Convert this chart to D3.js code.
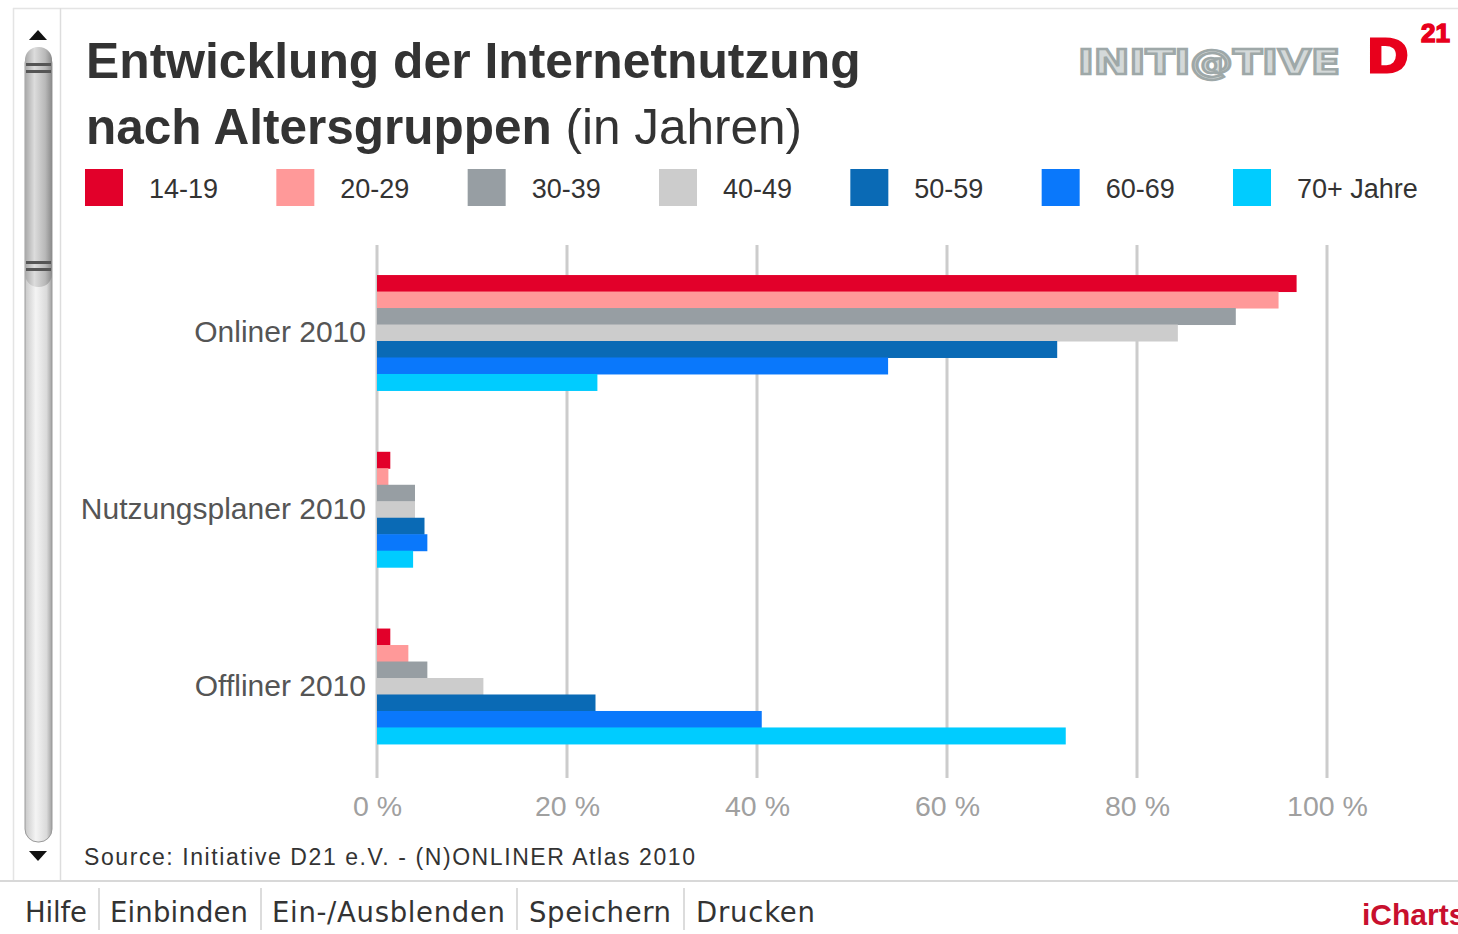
<!DOCTYPE html>
<html><head><meta charset="utf-8">
<script src="https://cdn.jsdelivr.net/npm/d3@7"></script>
<style>html,body{margin:0;padding:0;background:#fff;overflow:hidden}</style>
</head><body>
<svg id="c" width="1458" height="934"></svg>
<script>
const categories = ["Onliner 2010", "Nutzungsplaner 2010", "Offliner 2010"];
const seriesNames = ["14-19", "20-29", "30-39", "40-49", "50-59", "60-69", "70+ Jahre"];
const seriesColors = ["#e2002a", "#ff9999", "#979ea3", "#cccccc", "#0a6ab5", "#0a78fb", "#00ccff"];
const v1419 = [96.8, 1.4, 1.4];
const v2029 = [94.9, 1.2, 3.3];
const v3039 = [90.4, 4.0, 5.3];
const v4049 = [84.3, 4.0, 11.2];
const v5059 = [71.6, 5.0, 23.0];
const v6069 = [53.8, 5.3, 40.5];
const v70 = [23.2, 3.8, 72.5];
const xTicks = [0, 20, 40, 60, 80, 100];
const tickLabels = ["0 %", "20 %", "40 %", "60 %", "80 %", "100 %"];

const series = [v1419, v2029, v3039, v4049, v5059, v6069, v70];
const svg = d3.select("#c");
const FONT = "Liberation Sans, Arial, sans-serif";

// frame
svg.append("line").attr("x1", 60).attr("x2", 1458).attr("y1", 8.5).attr("y2", 8.5).attr("stroke", "#e4e4e4").attr("stroke-width", 1.5);
svg.append("line").attr("x1", 13.5).attr("x2", 13.5).attr("y1", 8).attr("y2", 880).attr("stroke", "#e4e4e4").attr("stroke-width", 1.5);
svg.append("line").attr("x1", 13).attr("x2", 60).attr("y1", 8.5).attr("y2", 8.5).attr("stroke", "#e4e4e4").attr("stroke-width", 1.5);
svg.append("line").attr("x1", 60.5).attr("x2", 60.5).attr("y1", 8).attr("y2", 880).attr("stroke", "#dddddd").attr("stroke-width", 1.5);
svg.append("line").attr("x1", 0).attr("x2", 1458).attr("y1", 881).attr("y2", 881).attr("stroke", "#d8d8d8").attr("stroke-width", 2);

// scrollbar
const defs = svg.append("defs");
const g1 = defs.append("linearGradient").attr("id", "thumb").attr("x1", "0").attr("x2", "1");
g1.append("stop").attr("offset", "0").attr("stop-color", "#a8a8a8");
g1.append("stop").attr("offset", "0.35").attr("stop-color", "#dcdcdc");
g1.append("stop").attr("offset", "0.75").attr("stop-color", "#b8b8b8");
g1.append("stop").attr("offset", "1").attr("stop-color", "#8a8a8a");
const g2 = defs.append("linearGradient").attr("id", "track").attr("x1", "0").attr("x2", "1");
g2.append("stop").attr("offset", "0").attr("stop-color", "#c8c8c8");
g2.append("stop").attr("offset", "0.4").attr("stop-color", "#f4f4f4");
g2.append("stop").attr("offset", "0.8").attr("stop-color", "#dadada");
g2.append("stop").attr("offset", "1").attr("stop-color", "#a0a0a0");
svg.append("rect").attr("x", 25).attr("y", 50).attr("width", 27).attr("height", 792).attr("rx", 13).attr("fill", "url(#track)").attr("stroke", "#9a9a9a").attr("stroke-width", 1);
svg.append("rect").attr("x", 25).attr("y", 47).attr("width", 27).attr("height", 240).attr("rx", 13).attr("fill", "url(#thumb)");
[63, 70, 261, 268].forEach(y => svg.append("rect").attr("x", 26).attr("y", y).attr("width", 25).attr("height", 3).attr("fill", "#555"));
svg.append("path").attr("d", "M29,40 L47,40 L38,30 Z").attr("fill", "#111");
svg.append("path").attr("d", "M29,851 L47,851 L38,861 Z").attr("fill", "#111");

// title
const t = svg.append("text").attr("font-family", FONT).attr("fill", "#333").attr("font-size", 49.8);
t.append("tspan").attr("x", 86).attr("y", 78).attr("font-weight", "bold").text("Entwicklung der Internetnutzung");
const t2 = svg.append("text").attr("font-family", FONT).attr("fill", "#333").attr("font-size", 49.5).attr("x", 86).attr("y", 144);
t2.append("tspan").attr("font-weight", "bold").text("nach Altersgruppen ");
t2.append("tspan").attr("font-weight", "normal").text("(in Jahren)");

// logo
svg.append("text").attr("x", 1078).attr("y", 74).attr("font-family", "DejaVu Sans, sans-serif").attr("font-size", 34)
  .attr("font-weight", "bold").attr("fill", "#d4d9d9").attr("stroke", "#9ea8a8").attr("stroke-width", 2.5)
  .attr("textLength", 262).attr("lengthAdjust", "spacingAndGlyphs").text("INITI@TIVE");
svg.append("text").attr("x", 1368).attr("y", 72).attr("font-family", FONT).attr("font-size", 48).attr("font-weight", "bold")
  .attr("fill", "#e8001c").attr("stroke", "#e8001c").attr("stroke-width", 3)
  .attr("textLength", 40).attr("lengthAdjust", "spacingAndGlyphs").text("D");
svg.append("text").attr("x", 1421).attr("y", 42).attr("font-family", FONT).attr("font-size", 26).attr("font-weight", "bold")
  .attr("fill", "#e8001c").attr("stroke", "#e8001c").attr("stroke-width", 1.5).text("21");

// legend
const legX = d3.scalePoint().domain(seriesNames).range([85, 1233]);
const leg = svg.append("g").selectAll("g").data(seriesNames).join("g").attr("transform", d => `translate(${legX(d)},169)`);
leg.append("rect").attr("width", 38).attr("height", 37).attr("fill", (d, i) => seriesColors[i]);
leg.append("text").attr("x", 64).attr("y", 29).attr("font-family", FONT).attr("font-size", 27).attr("fill", "#333").text(d => d);

// scales
const x = d3.scaleLinear().domain([0, 100]).range([377, 1327]);
const y = d3.scaleBand().domain(categories).range([245, 774]).paddingInner(0.347).paddingOuter(0.17);
const ySub = d3.scaleBand().domain(d3.range(seriesNames.length)).range([0, y.bandwidth()]);

// grid
svg.append("g").selectAll("line").data(xTicks).join("line")
  .attr("x1", d => x(d)).attr("x2", d => x(d)).attr("y1", 245).attr("y2", 778)
  .attr("stroke", "#cccccc").attr("stroke-width", 3);

// bars
const rows = [];
series.forEach((s, si) => s.forEach((v, ci) => rows.push({ si, cat: categories[ci], v })));
svg.append("g").selectAll("rect").data(rows).join("rect")
  .attr("x", x(0)).attr("y", d => y(d.cat) + ySub(d.si)).attr("width", d => x(d.v) - x(0))
  .attr("height", ySub.bandwidth() + 0.5).attr("fill", d => seriesColors[d.si]);

// axes
const xAxis = svg.append("g").attr("transform", "translate(0,787)")
  .call(d3.axisBottom(x).tickValues(xTicks).tickFormat((d, i) => tickLabels[i]).tickSize(0));
xAxis.select(".domain").remove();
xAxis.selectAll("text").attr("font-family", FONT).attr("font-size", 28.5).attr("fill", "#a0a0a0").attr("dy", "0.9em");

const yAxis = svg.append("g").attr("transform", "translate(366,0)")
  .call(d3.axisLeft(y).tickSize(0).tickPadding(0));
yAxis.select(".domain").remove();
yAxis.selectAll("text").attr("font-family", FONT).attr("font-size", 30).attr("fill", "#555");

// source
svg.append("text").attr("x", 84).attr("y", 865).attr("font-family", FONT).attr("font-size", 23).attr("fill", "#333")
  .attr("textLength", 611).attr("lengthAdjust", "spacing")
  .text("Source: Initiative D21 e.V. - (N)ONLINER Atlas 2010");

// toolbar
const tools = ["Hilfe", "Einbinden", "Ein-/Ausblenden", "Speichern", "Drucken"];
const toolX = [25, 110, 272, 529, 696];
const toolW = [62, 138, 233, 142, 119];
const sepX = [99, 261, 517, 684];
svg.append("g").selectAll("text").data(tools).join("text")
  .attr("x", (d, i) => toolX[i]).attr("y", 922).attr("font-family", "DejaVu Sans, sans-serif").attr("font-size", 27.5).attr("fill", "#333")
  .attr("textLength", (d, i) => toolW[i]).attr("lengthAdjust", "spacing").text(d => d);
svg.append("g").selectAll("line").data(sepX).join("line")
  .attr("x1", d => d).attr("x2", d => d).attr("y1", 888).attr("y2", 930).attr("stroke", "#d0d0d0").attr("stroke-width", 1.5);
svg.append("text").attr("x", 1362).attr("y", 925).attr("font-family", FONT).attr("font-size", 30).attr("font-weight", "bold").attr("fill", "#c8102e").text("iCharts");
</script>
</body></html>
